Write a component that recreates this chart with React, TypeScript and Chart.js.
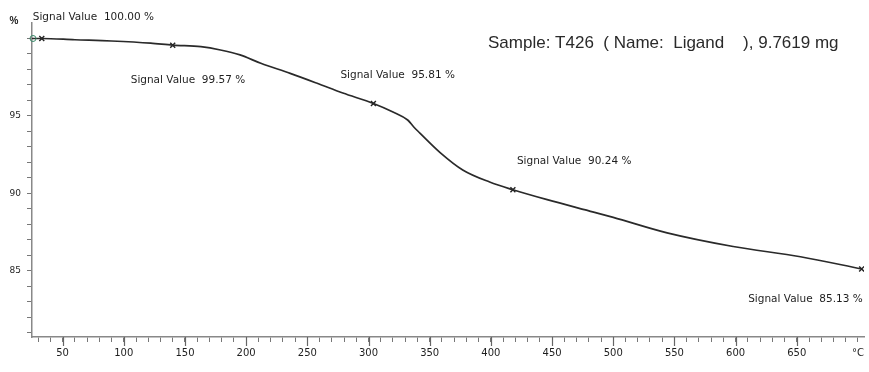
import React, { useEffect, useRef } from "react";
import { Chart, registerables } from "chart.js";

Chart.register(...registerables);

// Temperature (°C) and residual mass (%) along the TGA curve
const temps = [25, 33, 60, 90, 122, 140, 163, 179, 195, 212, 236, 258, 279, 304, 320, 332, 337, 342, 359, 377, 399, 418, 446, 484, 500, 544, 598, 653, 703];
const masses = [100.0, 100.0, 99.92, 99.84, 99.7, 99.57, 99.47, 99.26, 98.94, 98.4, 97.75, 97.11, 96.48, 95.81, 95.26, 94.74, 94.29, 93.9, 92.61, 91.52, 90.74, 90.24, 89.6, 88.8, 88.46, 87.46, 86.58, 85.92, 85.13];

// Signal value markers
const markerTemps = [33, 140, 304, 418, 703];
const markerValues = [100.0, 99.57, 95.81, 90.24, 85.13];
const markerLabels = ["Signal Value  100.00 %", "Signal Value  99.57 %", "Signal Value  95.81 %", "Signal Value  90.24 %", "Signal Value  85.13 %"];

const titleText = "Sample: T426  ( Name:  Ligand    ), 9.7619 mg";
const yLabeled = [95, 90, 85];
const xLabeled = [50, 100, 150, 200, 250, 300, 350, 400, 450, 500, 550, 600, 650];
const xUnit = "°C";
const yUnit = "%";

// label placement relative to marker (pixels)
const labelOffsets = [
  { dx: -9, dy: -21, align: "left" },
  { dx: -42, dy: 35, align: "left" },
  { dx: -33, dy: -28, align: "left" },
  { dx: 4, dy: -28, align: "left" },
  { dx: 1, dy: 30, align: "right" },
];

const annotPlugin = {
  id: "annot",
  afterDatasetsDraw(chart: any) {
    const ctx = chart.ctx;
    const xs = chart.scales.x;
    const ys = chart.scales.y;
    ctx.save();
    ctx.fillStyle = "#1e1e1e";
    ctx.textBaseline = "middle";
    ctx.font = "10.5px 'DejaVu Sans', sans-serif";
    markerTemps.forEach((t, i) => {
      const px = xs.getPixelForValue(t);
      const py = ys.getPixelForValue(markerValues[i]);
      const o = labelOffsets[i];
      ctx.textAlign = o.align;
      ctx.fillText(markerLabels[i], px + o.dx, py + o.dy);
    });
    // major x ticks (longer)
    ctx.strokeStyle = "#666";
    ctx.lineWidth = 1.2;
    xLabeled.forEach((v) => {
      const px = Math.round(xs.getPixelForValue(v)) + 0.5;
      ctx.beginPath();
      ctx.moveTo(px, xs.top);
      ctx.lineTo(px, xs.top + 9);
      ctx.stroke();
    });
    // start marker circle at axis
    ctx.strokeStyle = "#3a8a6a";
    ctx.lineWidth = 1;
    ctx.beginPath();
    ctx.arc(xs.left + 1, ys.getPixelForValue(100), 3, 0, Math.PI * 2);
    ctx.stroke();
    // title
    ctx.fillStyle = "#2a2a2a";
    ctx.textAlign = "left";
    ctx.font = "17px 'Liberation Sans', Arial, sans-serif";
    ctx.fillText(titleText, 488, 43);
    // y unit
    ctx.font = "bold 10px 'Liberation Sans', Arial, sans-serif";
    ctx.fillStyle = "#222";
    ctx.textAlign = "center";
    ctx.fillText(yUnit, 14, 21);
    ctx.restore();
  },
};

export default function App() {
  const ref = useRef<HTMLCanvasElement>(null);
  useEffect(() => {
    document.body.style.margin = "0";
    const chart = new Chart(ref.current as HTMLCanvasElement, {
      type: "line",
      data: {
        datasets: [
          {
            data: temps.map((t, i) => ({ x: t, y: masses[i] })),
            borderColor: "#2a2a2a",
            borderWidth: 1.7,
            pointRadius: 0,
            tension: 0.4,
            cubicInterpolationMode: "monotone",
          } as any,
          {
            type: "scatter",
            data: markerTemps.map((t, i) => ({ x: t, y: markerValues[i] })),
            pointStyle: "crossRot",
            pointRadius: 3.5,
            borderColor: "#222",
            borderWidth: 1.4,
          } as any,
        ],
      },
      options: {
        responsive: false,
        animation: false,
        layout: { padding: { top: 23, right: 4, left: 0, bottom: 0 }, autoPadding: false } as any,
        plugins: { legend: { display: false }, tooltip: { enabled: false } },
        scales: {
          x: {
            type: "linear",
            min: 25,
            max: 705,
            afterBuildTicks: (s: any) => {
              const t = [];
              for (let v = 30; v <= 700; v += 10) t.push({ value: v });
              s.ticks = t;
            },
            afterFit: (s: any) => {
              s.height = 35;
            },
            ticks: {
              autoSkip: false,
              maxRotation: 0,
              padding: 5,
              color: "#1e1e1e",
              font: { size: 10, family: "'DejaVu Sans', sans-serif" },
              callback: (v: any) => (v === 700 ? xUnit : xLabeled.includes(v) ? String(v) : ""),
            },
            grid: { drawOnChartArea: false, tickLength: 5, color: "#777", tickWidth: 1 } as any,
            border: { color: "#888", width: 1.5 },
          },
          y: {
            type: "linear",
            min: 80.74,
            max: 101,
            afterBuildTicks: (s: any) => {
              const t = [];
              for (let v = 81; v <= 100; v += 1) t.push({ value: v });
              s.ticks = t;
            },
            afterFit: (s: any) => {
              s.width = 32;
            },
            ticks: {
              autoSkip: false,
              padding: 6,
              color: "#1e1e1e",
              font: { size: 9, family: "'DejaVu Sans', sans-serif" },
              callback: (v: any) => (yLabeled.includes(v) ? String(v) : ""),
            },
            grid: { drawOnChartArea: false, tickLength: 5, color: "#777" } as any,
            border: { color: "#888", width: 1.5 },
          },
        },
      },
      plugins: [annotPlugin],
    });
    return () => chart.destroy();
  }, []);
  return <canvas ref={ref} width={869} height={372} style={{ display: "block" }} />;
}
